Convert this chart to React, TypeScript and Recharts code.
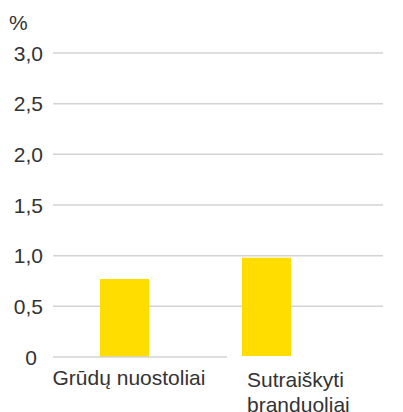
import React from "react";
import { BarChart, Bar, XAxis, YAxis, CartesianGrid } from "recharts";

const categories = ["Grūdų nuostoliai", "Sutraiškyti branduoliai"];
const barLows = [0, 0.01];
const barHighs = [0.77, 0.98];
const yTicks = [0, 0.5, 1, 1.5, 2, 2.5, 3];
const gridTicks = [0.5, 1, 1.5, 2, 2.5, 3];

const data = categories.map((name, i) => ({
  name,
  range: [barLows[i], barHighs[i]],
}));

const FONT = "'Liberation Sans', Arial, sans-serif";
const TEXT = "#333333";
const GRID = "#d3d3d3";

const YTick = (props: any) => {
  const { x, y, payload } = props;
  const v: number = payload.value;
  const label = v === 0 ? "0" : v.toFixed(1).replace(".", ",");
  return (
    <text x={v === 0 ? x - 6 : x} y={y} dy="0.36em" textAnchor="end" fill={TEXT} fontSize={21} fontFamily={FONT}>
      {label}
    </text>
  );
};

// labels in the source are placed a bit off their bars
const XTick = (props: any) => {
  const { x, y, payload, index } = props;
  const words = String(payload.value);
  if (index === 0) {
    return (
      <text x={x + 5} y={y + 20} textAnchor="middle" fill={TEXT} fontSize={21} fontFamily={FONT}>
        {words}
      </text>
    );
  }
  const lines = words.split(" ");
  return (
    <text x={x - 19} y={y + 22} textAnchor="start" fill={TEXT} fontSize={21} fontFamily={FONT}>
      {lines.map((l, i) => (
        <tspan key={i} x={x - 19} dy={i === 0 ? 0 : 25}>
          {l}
        </tspan>
      ))}
    </text>
  );
};

export default function App() {
  return (
    <div style={{ position: "absolute", left: 0, top: 0, width: 403, height: 412, background: "#fff" }}>
      <div style={{ position: "absolute", left: 9, top: 11, fontFamily: FONT, fontSize: 21, color: TEXT }}>%</div>
      <BarChart width={403} height={412} data={data} margin={{ top: 53, right: 20, left: 0, bottom: 0 }}>
        <CartesianGrid vertical={false} horizontalValues={gridTicks} stroke={GRID} strokeWidth={1.5} />
        <XAxis
          dataKey="name"
          height={55}
          padding={{ left: 0, right: 46 }}
          tickLine={false}
          axisLine={{ stroke: GRID, strokeWidth: 1.5, strokeDasharray: "174 400" }}
          tick={<XTick />}
          interval={0}
        />
        <YAxis
          domain={[0, 3]}
          ticks={yTicks}
          width={53}
          axisLine={false}
          tickLine={false}
          tickMargin={4}
          tick={<YTick />}
        />
        <Bar dataKey="range" fill="#FFDD00" barSize={49} isAnimationActive={false} />
      </BarChart>
    </div>
  );
}
